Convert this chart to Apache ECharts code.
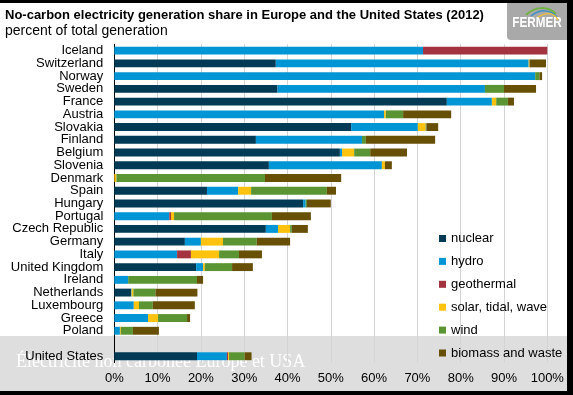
<!DOCTYPE html>
<html><head><meta charset="utf-8">
<script src="https://cdn.jsdelivr.net/npm/echarts@6/dist/echarts.min.js"></script>
<style>html,body{margin:0;padding:0;background:#fff}#c{width:573px;height:395px}</style>
</head><body><div id="c"></div>
<script>
const categories = ['Iceland','Switzerland','Norway','Sweden','France','Austria','Slovakia','Finland','Belgium','Slovenia','Denmark','Spain','Hungary','Portugal','Czech Republic','Germany','Italy','United Kingdom','Ireland','Netherlands','Luxembourg','Greece','Poland','','United States'];
const nuclear    = [0,37.3,0,37.7,76.8,0,54.7,32.7,52.1,35.7,0,21.4,43.6,0,35.0,16.3,0,18.9,0,3.9,0,0,0,null,19.1];
const hydro      = [71.3,58.4,97.2,47.9,10.4,62.3,15.4,24.5,0.5,26.1,0,7.2,0.6,12.7,2.8,3.7,14.5,1.6,3.2,0.1,4.5,7.8,1.3,null,6.9];
const geothermal = [28.7,0,0,0,0,0,0,0,0,0,0,0,0,0.4,0,0,3.2,0,0,0,0,0,0,null,0.3];
const solar      = [0,0.2,0,0,1.0,0.4,1.8,0,2.8,0.7,0.5,3.0,0,0.7,2.8,5.1,6.5,0.4,0,0.4,1.2,2.3,0.2,null,0.2];
const wind       = [0,0,1.0,4.4,2.7,4.0,0.2,0.9,3.7,0,34.3,17.5,0.3,22.6,0.4,7.8,4.6,6.3,15.9,5.1,3.2,6.7,2.8,null,3.6];
const biomass    = [0,3.8,0.6,7.4,1.4,11.1,2.7,16.0,8.5,1.6,17.6,2.1,5.5,9.0,3.7,7.7,5.3,4.8,1.4,9.7,9.7,0.7,6.0,null,1.6];
const seriesNames = ['nuclear','hydro','geothermal','solar, tidal, wave','wind','biomass and waste'];
const seriesData = [nuclear,hydro,geothermal,solar,wind,biomass];
const colors = ['#003A54','#0096D6','#A2333F','#FFC20E','#5B9533','#674F06'];
const xTicks = [0,10,20,30,40,50,60,70,80,90,100];

const chart = echarts.init(document.getElementById('c'), null, {renderer:'canvas'});
const font = 'Liberation Sans, Arial, sans-serif';
chart.setOption({
  animation:false,
  backgroundColor:'#fff',
  textStyle:{fontFamily:font},
  grid:{left:114.3, right:25.7, top:44.3, bottom:32.4, containLabel:false},
  xAxis:{type:'value', min:xTicks[0], max:xTicks[xTicks.length-1], interval:10,
    axisLine:{show:false}, axisTick:{show:false},
    axisLabel:{formatter:'{value}%', color:'#000', fontSize:13, fontFamily:font, margin:9},
    splitLine:{lineStyle:{color:'#d4d4d4', width:1}}},
  yAxis:{type:'category', data:categories, inverse:true,
    axisLine:{show:true, lineStyle:{color:'#000', width:1}}, axisTick:{show:false},
    axisLabel:{interval:0, color:'#000', fontSize:13, fontFamily:font, margin:11}},
  legend:{orient:'vertical', left:434, top:227, itemWidth:7, itemHeight:7, itemGap:9.9,
    icon:'rect', textStyle:{color:'#000', fontSize:13, fontFamily:font}, data:seriesNames},
  series: seriesNames.map((n,i)=>({name:n, type:'bar', stack:'t', barWidth:'62%',
    data:seriesData[i], itemStyle:{color:colors[i]}, z:3})),
  graphic:[
    {type:'rect', z:-10, shape:{x:0,y:336,width:567,height:55}, style:{fill:'#dedede'}},
    {type:'text', z:-9, left:16, top:353, style:{text:'Électricité non carbonée Europe et USA', fill:'#ffffff', font:'18px "Liberation Serif", "Times New Roman", serif'}},
    {type:'text', left:5, top:9, style:{text:'No-carbon electricity generation share in Europe and the United States (2012)', fill:'#000', font:'bold 13px '+font}},
    {type:'text', left:5, top:24, style:{text:'percent of total generation', fill:'#000', font:'14px '+font}},
    {type:'rect', z:50, shape:{x:507,y:0,width:66,height:40,r:4}, style:{fill:'#a9a9a9'}},
    {type:'text', z:51, x:537, y:23, scaleX:0.78, originX:0, originY:0, style:{text:'FERMER', fill:'#fff', align:'center', verticalAlign:'middle', font:'bold 15px "Liberation Sans", Arial, sans-serif'}},
    {type:'bezierCurve', z:51, shape:{x1:526,y1:15,x2:556,y2:14,cpx1:535,cpy1:6,cpx2:548,cpy2:6}, style:{stroke:'#6fb43f', lineWidth:2, fill:null}},
    {type:'bezierCurve', z:51, shape:{x1:531,y1:16,x2:557,y2:17,cpx1:540,cpy1:9,cpx2:550,cpy2:9}, style:{stroke:'#3a8fc7', lineWidth:1.5, fill:null}},
    {type:'bezierCurve', z:51, shape:{x1:538,y1:17,x2:558,y2:20,cpx1:546,cpy1:12,cpx2:554,cpy2:12}, style:{stroke:'#f2c12e', lineWidth:1.2, fill:null}},
    {type:'rect', z:100, shape:{x:0,y:0,width:573,height:3}, style:{fill:'#000'}},
    {type:'rect', z:100, shape:{x:567,y:0,width:6,height:395}, style:{fill:'#000'}},
    {type:'rect', z:100, shape:{x:0,y:391,width:573,height:4}, style:{fill:'#000'}}
  ]
});
</script></body></html>
